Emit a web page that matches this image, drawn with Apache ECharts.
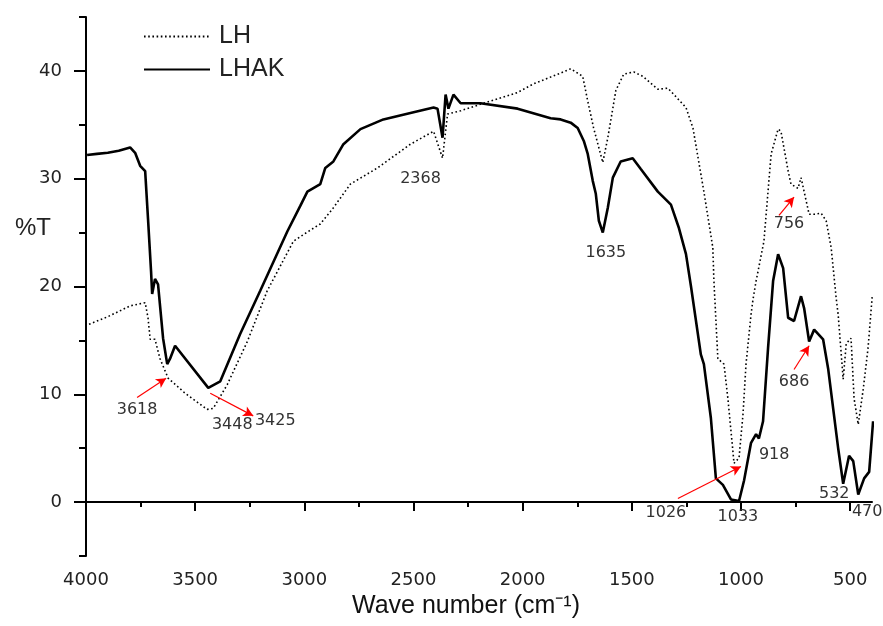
<!DOCTYPE html>
<html>
<head>
<meta charset="utf-8">
<script src="https://cdn.jsdelivr.net/npm/echarts@6/dist/echarts.min.js"></script>
<style>html,body{margin:0;padding:0;background:#fff;}#c{width:883px;height:626px;}</style>
</head>
<body>
<div id="c"></div>
<script>
// ---- data ----
const seriesNames = ['LH', 'LHAK'];
const lhData = [
[3986,16.5],[3900,17.2],[3798,18.2],[3729,18.5],[3716,17.1],[3706,15.1],[3684,15.1],[3661,13.3],[3624,11.5],[3546,10.1],[3445,8.6],[3417,8.7],[3353,10.9],[3261,14.9],[3170,19.6],[3050,24.2],[2990,25.0],[2927,25.8],[2867,27.3],[2789,29.5],[2665,31.0],[2514,33.2],[2408,34.4],[2367,31.9],[2344,36.0],[2284,36.3],[2179,37.0],[2023,38.0],[1950,38.8],[1826,39.8],[1780,40.2],[1725,39.5],[1702,37.2],[1675,34.7],[1633,31.5],[1610,33.8],[1573,38.2],[1537,39.7],[1491,39.9],[1450,39.5],[1381,38.3],[1335,38.4],[1307,37.8],[1252,36.6],[1220,34.7],[1170,28.8],[1129,23.6],[1124,20.5],[1106,13.3],[1078,12.8],[1060,9.6],[1037,4.7],[1032,3.6],[1009,4.1],[991,8.1],[977,12.8],[954,17.4],[945,18.8],[931,20.5],[922,21.4],[895,24.2],[862,32.3],[830,34.6],[817,34.4],[784,30.7],[771,29.5],[739,29.1],[725,30.1],[716,30.0],[688,26.7],[665,26.7],[633,26.8],[610,26.1],[587,23.6],[564,18.9],[555,17.4],[532,11.4],[518,14.7],[496,15.2],[482,9.6],[463,7.2],[440,10.5],[418,14.3],[399,19.1]
];
const lhakData = [
[3995,32.2],[3950,32.3],[3900,32.4],[3850,32.6],[3798,32.9],[3775,32.4],[3752,31.2],[3729,30.7],[3716,26.3],[3702,21.4],[3697,19.3],[3684,20.7],[3670,20.2],[3647,15.2],[3628,12.8],[3615,13.3],[3592,14.5],[3440,10.6],[3385,11.2],[3294,15.6],[3202,19.6],[3078,25.1],[3018,27.5],[2986,28.8],[2927,29.5],[2904,31.0],[2867,31.6],[2821,33.2],[2743,34.6],[2638,35.5],[2514,36.1],[2408,36.6],[2390,36.5],[2367,33.8],[2353,37.8],[2340,36.5],[2317,37.8],[2284,37.0],[2193,37.0],[2023,36.5],[1872,35.6],[1826,35.5],[1780,35.2],[1748,34.7],[1720,33.5],[1702,32.3],[1679,29.8],[1665,28.6],[1651,26.1],[1633,25.0],[1610,27.3],[1587,30.1],[1551,31.6],[1496,31.9],[1459,30.9],[1381,28.8],[1321,27.6],[1284,25.4],[1252,23.0],[1229,20.0],[1184,13.7],[1170,12.8],[1138,7.8],[1115,2.2],[1083,1.6],[1046,0.25],[1009,0.1],[986,2.0],[954,5.5],[931,6.3],[918,5.9],[899,7.5],[876,14.3],[853,20.5],[830,23.0],[807,21.7],[784,17.1],[757,16.8],[725,19.1],[711,18.0],[688,14.9],[665,16.0],[624,15.1],[601,12.4],[555,5.0],[532,1.7],[505,4.3],[486,3.8],[463,0.7],[436,2.2],[413,2.8],[395,7.5]
];
const xTickValues = [500,1000,1500,2000,2500,3000,3500,4000];
const xMinorTickValues = [750,1250,1750,2250,2750,3250,3750];
const yTickValues = [0,10,20,30,40];
const yMinorTickValues = [-5,5,15,25,35,45];
const peakLabels = ['3618','3448','3425','2368','1635','756','686','918','1026','1033','532','470'];
const peakLabelX = [3766,3330,3133,2468,1619,780,757,848,1344,1014,573,422];
const peakLabelY = [8.6,7.2,7.5,30.0,23.1,25.8,11.2,4.4,-1.0,-1.4,0.8,-0.9];
const arrowFrom = [[3766,9.7],[3431,10.1],[826,26.6],[757,12.3],[1289,0.34]];
const arrowTo = [[3633,11.5],[3234,8.0],[757,28.3],[688,14.5],[1000,3.3]];

// ---- chart ----
const chart = echarts.init(document.getElementById('c'), null, {renderer: 'canvas'});
const FONT = 'DejaVu Sans';
const TFONT = 'Liberation Sans';
const plain = v => String(v);
const option = {
  animation: false,
  backgroundColor: '#fff',
  title: {
    text: '%T', left: 10, top: 211,
    textStyle: {fontSize: 24, fontWeight: 'normal', fontFamily: TFONT, color: '#222'}
  },
  legend: {
    orient: 'vertical', left: 138, top: 19, itemWidth: 66, itemHeight: 14, itemGap: 8,
    data: seriesNames,
    itemStyle: {opacity: 0},
    textStyle: {fontSize: 25, fontFamily: TFONT, color: '#222', padding: [0, 0, 0, 4]},
    selectedMode: false
  },
  grid: {left: 86, right: 11, top: 17, bottom: 70, containLabel: false},
  xAxis: [{
    type: 'value', inverse: true, min: 400, max: 4000,
    name: 'Wave number (cm\u207B\u00B9)', nameLocation: 'middle', nameGap: 33,
    nameTextStyle: {fontSize: 25, fontFamily: TFONT, color: '#111', padding: [0, 26, 0, 0]},
    axisLine: {show: true, lineStyle: {color: '#000', width: 2}},
    axisTick: {show: true, customValues: xTickValues, length: 9, lineStyle: {color: '#000', width: 2}},
    axisLabel: {customValues: xTickValues, formatter: plain, fontSize: 18, fontFamily: FONT, color: '#222', margin: 15},
    splitLine: {show: false}
  }, {
    type: 'value', inverse: true, min: 400, max: 4000, position: 'bottom',
    axisLine: {show: false},
    axisTick: {show: true, customValues: xMinorTickValues, length: 5, lineStyle: {color: '#000', width: 2}},
    axisLabel: {show: false},
    splitLine: {show: false}
  }],
  yAxis: [{
    type: 'value', min: -5, max: 45,
    axisLine: {show: true, lineStyle: {color: '#000', width: 2}},
    axisTick: {show: true, customValues: yTickValues, length: 12, lineStyle: {color: '#000', width: 2}},
    axisLabel: {customValues: yTickValues, formatter: plain, fontSize: 18, fontFamily: FONT, color: '#222', margin: 24},
    splitLine: {show: false}
  }, {
    type: 'value', min: -5, max: 45, position: 'left',
    axisLine: {show: false},
    axisTick: {show: true, customValues: yMinorTickValues, length: 7, lineStyle: {color: '#000', width: 2}},
    axisLabel: {show: false},
    splitLine: {show: false}
  }],
  series: [{
    name: seriesNames[0], type: 'line', data: lhData, symbol: 'none', silent: true,
    xAxisIndex: 0, yAxisIndex: 0,
    lineStyle: {color: '#000', width: 1.6, type: [1.6, 2.6]},
    itemStyle: {color: '#000'}
  }, {
    name: seriesNames[1], type: 'line', data: lhakData, symbol: 'none', silent: true,
    xAxisIndex: 0, yAxisIndex: 0,
    lineStyle: {color: '#000', width: 2.6, type: 'solid'},
    itemStyle: {color: '#000'},
    markLine: {
      silent: true, symbol: ['none', 'arrow'], symbolSize: [8, 10],
      label: {show: false},
      lineStyle: {color: '#ff0000', width: 1.2, type: 'solid'},
      data: arrowFrom.map((p, i) => [{coord: p}, {coord: arrowTo[i]}])
    },
    markPoint: {
      silent: true, symbol: 'circle', symbolSize: 0,
      label: {show: true, position: 'inside', formatter: '{b}', fontSize: 16, fontFamily: FONT, color: '#333'},
      data: peakLabels.map((t, i) => ({name: t, coord: [peakLabelX[i], peakLabelY[i]]}))
    }
  }]
};
chart.setOption(option);
</script>
</body>
</html>
